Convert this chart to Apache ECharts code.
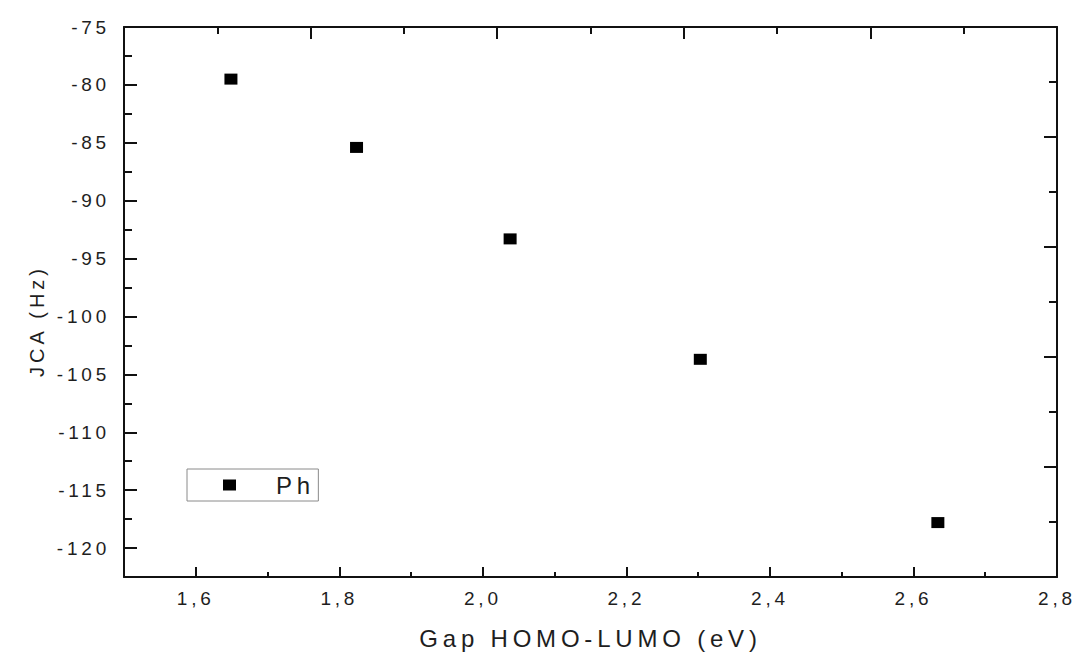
<!DOCTYPE html>
<html>
<head>
<meta charset="utf-8">
<script src="https://cdn.jsdelivr.net/npm/echarts@6/dist/echarts.min.js"></script>
<style>
  html, body { margin: 0; padding: 0; background: #fff; }
  #chart { width: 1075px; height: 655px; }
  /* wide, Origin-style lettering */
  #chart text { letter-spacing: 0.2em; }
</style>
</head>
<body>
<div id="chart"></div>
<script>
// HOMO-LUMO gap (eV) against coupling constant JCA (Hz), series "Ph"
const seriesName = 'Ph';
const gapValues = [1.649, 1.824, 2.038, 2.303, 2.634];
const jcaValues = [-79.5, -85.4, -93.3, -103.7, -117.8];

// axis ranges and tick marks
const xRange = [1.5, 2.8];
const yRange = [-122.5, -75];
const xMajorTicks = [1.6, 1.8, 2.0, 2.2, 2.4, 2.6, 2.8];
const xMinorTicks = [1.7, 1.9, 2.1, 2.3, 2.5, 2.7];
const yMajorTicks = [-120, -115, -110, -105, -100, -95, -90, -85, -80, -75];
const yMinorTicks = [-117.5, -112.5, -107.5, -102.5, -97.5, -92.5, -87.5, -82.5, -77.5];
// unlabeled top and right frame axes split into five parts
const frameMajorTicks = [2, 4, 6, 8];
const frameMinorTicks = [1, 3, 5, 7, 9];

const points = gapValues.map((g, i) => [g, jcaValues[i]]);

const ink = '#111';
const textColor = '#1e1e1e';
const font = 'Liberation Sans, Arial, sans-serif';

function tickAxis(extra) {
  return Object.assign({
    type: 'value',
    splitLine: { show: false },
    axisLine: { show: false },
    axisLabel: { show: false },
  }, extra);
}

const chart = echarts.init(document.getElementById('chart'), null, { renderer: 'svg' });

chart.setOption({
  animation: false,
  backgroundColor: '#fff',
  grid: { left: 124, top: 27, width: 933, height: 551 },
  legend: {
    data: [{ name: seriesName, icon: 'rect', itemStyle: { color: '#000', opacity: 1 } }],
    left: 187,
    top: 469,
    orient: 'horizontal',
    itemWidth: 13,
    itemHeight: 11,
    padding: [4, 13, 4, 36],
    borderColor: '#8a8a8a',
    borderWidth: 1,
    textStyle: { fontFamily: font, fontSize: 24, color: textColor, padding: [0, 0, 0, 35] },
    selectedMode: false
  },
  xAxis: [
    tickAxis({
      position: 'bottom',
      min: xRange[0], max: xRange[1],
      axisLine: { show: true, lineStyle: { color: ink, width: 2 } },
      axisTick: { show: true, inside: true, length: 10, customValues: xMajorTicks, lineStyle: { color: ink, width: 2 } },
      axisLabel: {
        show: true, customValues: xMajorTicks, margin: 12,
        formatter: v => v.toFixed(1).replace('.', ','),
        fontFamily: font, fontSize: 19, color: textColor
      },
      name: 'Gap HOMO-LUMO (eV)',
      nameLocation: 'middle',
      nameGap: 49,
      nameTextStyle: { fontFamily: font, fontSize: 24, color: textColor }
    }),
    tickAxis({
      position: 'bottom',
      min: xRange[0], max: xRange[1],
      axisTick: { show: true, inside: true, length: 5, customValues: xMinorTicks, lineStyle: { color: ink, width: 2 } }
    }),
    tickAxis({
      position: 'top',
      min: 0, max: 10,
      axisLine: { show: true, lineStyle: { color: ink, width: 2 } },
      axisTick: { show: true, inside: true, length: 12, customValues: frameMajorTicks, lineStyle: { color: ink, width: 2 } }
    }),
    tickAxis({
      position: 'top',
      min: 0, max: 10,
      axisTick: { show: true, inside: true, length: 7, customValues: frameMinorTicks, lineStyle: { color: ink, width: 2 } }
    })
  ],
  yAxis: [
    tickAxis({
      position: 'left',
      min: yRange[0], max: yRange[1],
      axisLine: { show: true, lineStyle: { color: ink, width: 2 } },
      axisTick: { show: true, inside: true, length: 13, customValues: yMajorTicks, lineStyle: { color: ink, width: 2 } },
      axisLabel: {
        show: true, customValues: yMajorTicks, margin: 14,
        formatter: v => String(v),
        fontFamily: font, fontSize: 19, color: textColor
      },
      name: 'JCA (Hz)',
      nameLocation: 'middle',
      nameGap: 77,
      nameTextStyle: { fontFamily: font, fontSize: 20, color: textColor, padding: [0, 38, 0, 0] }
    }),
    tickAxis({
      position: 'left',
      min: yRange[0], max: yRange[1],
      axisTick: { show: true, inside: true, length: 8, customValues: yMinorTicks, lineStyle: { color: ink, width: 2 } }
    }),
    tickAxis({
      position: 'right',
      min: 0, max: 10,
      axisLine: { show: true, lineStyle: { color: ink, width: 2 } },
      axisTick: { show: true, inside: true, length: 13, customValues: frameMajorTicks, lineStyle: { color: ink, width: 2 } }
    }),
    tickAxis({
      position: 'right',
      min: 0, max: 10,
      axisTick: { show: true, inside: true, length: 8, customValues: frameMinorTicks, lineStyle: { color: ink, width: 2 } }
    })
  ],
  series: [{
    name: seriesName,
    type: 'scatter',
    xAxisIndex: 0,
    yAxisIndex: 0,
    symbol: 'rect',
    symbolSize: [13, 11],
    itemStyle: { color: '#000', opacity: 1 },
    data: points,
    z: 5
  }]
});
</script>
</body>
</html>
